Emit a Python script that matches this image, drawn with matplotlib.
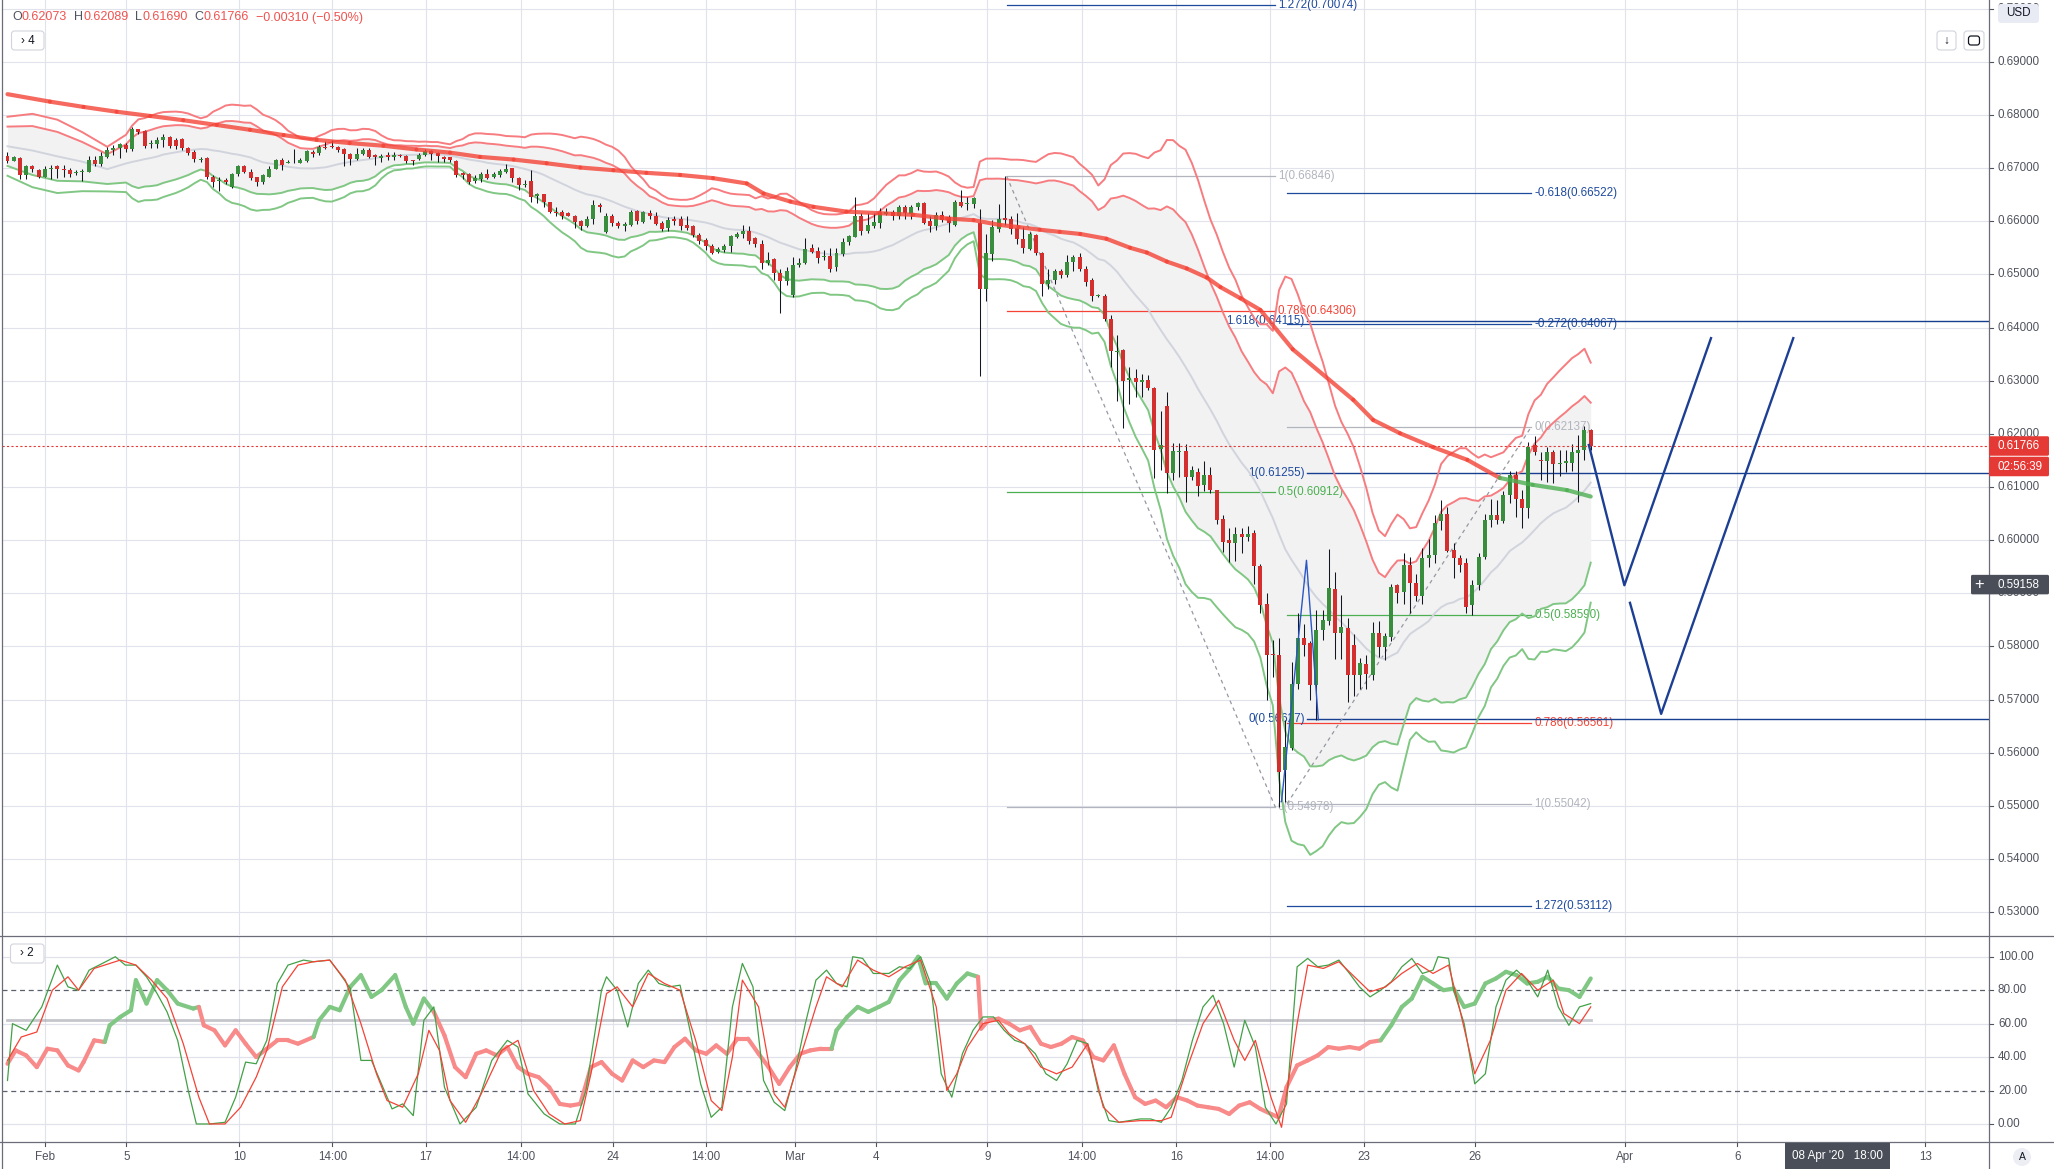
import numpy as np
import pandas as pd
import matplotlib
matplotlib.use("Agg")
import matplotlib.pyplot as plt
from matplotlib.collections import LineCollection
from matplotlib.patches import FancyBboxPatch, Circle
from matplotlib.lines import Line2D
from matplotlib.transforms import blended_transform_factory

plt.rcParams['font.family'] = ['Liberation Sans', 'DejaVu Sans']

# ---------------- data (AUDUSD 4H candles) ----------------
opens = [
0.6723,0.6714,0.6719,0.6687,0.6704,0.6696,0.6684,0.6698,0.6704,0.6699,
0.6696,0.6690,0.6693,0.6693,0.6715,0.6707,0.6720,0.6734,0.6738,0.6743,
0.6735,0.6773,0.6770,0.6745,0.6745,0.6752,0.6758,0.6753,0.6754,0.6737,
0.6731,0.6715,0.6718,0.6683,0.6676,0.6678,0.6665,0.6688,0.6704,0.6693,
0.6683,0.6673,0.6684,0.6699,0.6715,0.6710,0.6711,0.6710,0.6714,0.6731,
0.6728,0.6740,0.6742,0.6739,0.6735,0.6726,0.6717,0.6726,0.6734,0.6725,
0.6718,0.6725,0.6720,0.6725,0.6723,0.6715,0.6717,0.6725,0.6732,0.6728,
0.6720,0.6720,0.6713,0.6690,0.6689,0.6676,0.6679,0.6688,0.6684,0.6687,
0.6693,0.6700,0.6681,0.6669,0.6676,0.6647,0.6651,0.6636,0.6618,0.6618,
0.6616,0.6610,0.6600,0.6591,0.6604,0.6631,0.6580,0.6610,0.6597,0.6591,
0.6593,0.6619,0.6599,0.6615,0.6610,0.6597,0.6588,0.6604,0.6604,0.6593,
0.6591,0.6574,0.6565,0.6553,0.6543,0.6546,0.6554,0.6571,0.6575,0.6582,
0.6568,0.6558,0.6522,0.6528,0.6502,0.6487,0.6461,0.6518,0.6521,0.6549,
0.6544,0.6532,0.6535,0.6513,0.6538,0.6560,0.6571,0.6610,0.6582,0.6591,
0.6596,0.6614,0.6617,0.6609,0.6627,0.6614,0.6626,0.6635,0.6601,0.6591,
0.6612,0.6607,0.6593,0.6637,0.6632,0.6632,0.6597,0.6472,0.6538,0.6586,
0.6606,0.6604,0.6587,0.6567,0.6548,0.6574,0.6541,0.6481,0.6489,0.6507,
0.6498,0.6524,0.6533,0.6511,0.6489,0.6459,0.6459,0.6416,0.6354,0.6357,
0.6302,0.6305,0.6297,0.6302,0.6286,0.6172,0.6252,0.6127,0.6165,0.6167,
0.6118,0.6129,0.6103,0.6122,0.6094,0.6040,0.6000,0.5995,0.6011,0.6005,
0.6013,0.5952,0.5880,0.5786,0.5784,0.5567,0.5608,0.5729,0.5815,0.5806,
0.5727,0.5831,0.5848,0.5908,0.5825,0.5834,0.5803,0.5746,0.5766,0.5746,
0.5826,0.5798,0.5818,0.5915,0.5903,0.5953,0.5919,0.5895,0.5966,0.5972,
0.6035,0.6050,0.5981,0.5966,0.5956,0.5878,0.5915,0.5968,0.6037,0.6047,
0.6035,0.6085,0.6122,0.6078,0.6060,0.6178,0.6151,0.6148,0.6165,0.6144,
0.6146,0.6146,0.6163,0.6170,0.62073]
highs = [
0.6731,0.6723,0.6720,0.6706,0.6706,0.6699,0.6704,0.6706,0.6706,0.6706,
0.6701,0.6696,0.6698,0.6723,0.6723,0.6731,0.6740,0.6743,0.6747,0.6747,
0.6778,0.6773,0.6772,0.6753,0.6759,0.6765,0.6760,0.6756,0.6756,0.6740,
0.6734,0.6721,0.6720,0.6687,0.6683,0.6681,0.6690,0.6706,0.6706,0.6698,
0.6684,0.6688,0.6703,0.6717,0.6718,0.6715,0.6736,0.6718,0.6734,0.6734,
0.6743,0.6750,0.6753,0.6742,0.6737,0.6729,0.6737,0.6737,0.6737,0.6726,
0.6726,0.6731,0.6731,0.6726,0.6725,0.6716,0.6728,0.6735,0.6734,0.6731,
0.6723,0.6721,0.6715,0.6693,0.6691,0.6687,0.6693,0.6698,0.6693,0.6698,
0.6708,0.6700,0.6683,0.6678,0.6696,0.6654,0.6652,0.6637,0.6627,0.6621,
0.6618,0.6612,0.6602,0.6609,0.6640,0.6634,0.6615,0.6614,0.6601,0.6599,
0.6621,0.6621,0.6619,0.6622,0.6618,0.6601,0.6607,0.6609,0.6609,0.6609,
0.6593,0.6577,0.6568,0.6558,0.6552,0.6558,0.6574,0.6580,0.6593,0.6591,
0.6571,0.6565,0.6543,0.6530,0.6511,0.6513,0.6532,0.6530,0.6568,0.6558,
0.6552,0.6546,0.6549,0.6549,0.6568,0.6574,0.6646,0.6615,0.6616,0.6616,
0.6624,0.6624,0.6621,0.6631,0.6631,0.6631,0.6637,0.6637,0.6609,0.6618,
0.6619,0.6612,0.6640,0.6659,0.6646,0.6646,0.6623,0.6576,0.6602,0.6632,
0.6685,0.6610,0.6615,0.6589,0.6580,0.6576,0.6543,0.6511,0.6511,0.6511,
0.6537,0.6537,0.6541,0.6515,0.6494,0.6463,0.6463,0.6423,0.6386,0.6360,
0.6325,0.6321,0.6312,0.6311,0.6288,0.6243,0.6279,0.6183,0.6183,0.6181,
0.6140,0.6135,0.6148,0.6138,0.6095,0.6047,0.6023,0.6025,0.6023,0.6026,
0.6019,0.5955,0.5900,0.5812,0.5815,0.5661,0.5770,0.5862,0.5843,0.5810,
0.5868,0.5868,0.5984,0.5940,0.5897,0.5853,0.5823,0.5779,0.5783,0.5846,
0.5848,0.5825,0.5917,0.5918,0.5975,0.5968,0.5937,0.5985,0.6003,0.6047,
0.6075,0.6062,0.5995,0.5972,0.5966,0.5925,0.5975,0.6050,0.6078,0.6076,
0.6093,0.6130,0.6130,0.6095,0.6185,0.6195,0.6165,0.6175,0.6170,0.6170,
0.6170,0.6180,0.6197,0.6214,0.62089]
lows = [
0.6709,0.6713,0.6679,0.6679,0.6693,0.6681,0.6683,0.6679,0.6682,0.6684,
0.6684,0.6686,0.6676,0.6693,0.6703,0.6704,0.6718,0.6725,0.6718,0.6731,
0.6733,0.6765,0.6737,0.6737,0.6737,0.6740,0.6737,0.6736,0.6734,0.6725,
0.6712,0.6712,0.6679,0.6665,0.6657,0.6670,0.6663,0.6685,0.6690,0.6678,
0.6666,0.6670,0.6683,0.6698,0.6696,0.6709,0.6709,0.6709,0.6712,0.6721,
0.6725,0.6735,0.6737,0.6731,0.6703,0.6706,0.6715,0.6725,0.6718,0.6706,
0.6712,0.6716,0.6715,0.6720,0.6710,0.6706,0.6715,0.6723,0.6715,0.6712,
0.6712,0.6712,0.6684,0.6679,0.6670,0.6671,0.6674,0.6679,0.6681,0.6684,
0.6690,0.6674,0.6659,0.6665,0.6637,0.6634,0.6627,0.6615,0.6609,0.6605,
0.6609,0.6587,0.6583,0.6589,0.6595,0.6618,0.6577,0.6591,0.6588,0.6582,
0.6591,0.6595,0.6597,0.6605,0.6593,0.6582,0.6582,0.6593,0.6583,0.6583,
0.6571,0.6558,0.6546,0.6538,0.6540,0.6543,0.6543,0.6568,0.6568,0.6558,
0.6552,0.6511,0.6518,0.6489,0.6428,0.6480,0.6458,0.6514,0.6520,0.6540,
0.6521,0.6527,0.6505,0.6507,0.6535,0.6555,0.6570,0.6574,0.6577,0.6587,
0.6587,0.6612,0.6602,0.6605,0.6605,0.6605,0.6621,0.6595,0.6580,0.6583,
0.6599,0.6580,0.6591,0.6627,0.6621,0.6624,0.6308,0.6450,0.6526,0.6580,
0.6593,0.6576,0.6558,0.6541,0.6546,0.6537,0.6459,0.6472,0.6481,0.6494,
0.6495,0.6507,0.6507,0.6478,0.6450,0.6457,0.6412,0.6325,0.6262,0.6210,
0.6256,0.6269,0.6269,0.6282,0.6116,0.6131,0.6089,0.6114,0.6118,0.6072,
0.6114,0.6083,0.6092,0.6089,0.6031,0.5977,0.5958,0.5960,0.5975,0.5998,
0.5917,0.5862,0.5699,0.5743,0.5498,0.5508,0.5605,0.5720,0.5781,0.5699,
0.5662,0.5812,0.5840,0.5777,0.5777,0.5696,0.5707,0.5720,0.5720,0.5737,
0.5780,0.5774,0.5810,0.5882,0.5880,0.5862,0.5885,0.5880,0.5950,0.5956,
0.6019,0.5978,0.5928,0.5940,0.5862,0.5860,0.5906,0.5964,0.6025,0.6030,
0.6033,0.6069,0.6043,0.6022,0.6042,0.6160,0.6113,0.6110,0.6108,0.6120,
0.6128,0.6130,0.6072,0.6150,0.61690]
closes = [
0.6714,0.6720,0.6687,0.6704,0.6698,0.6684,0.6698,0.6701,0.6698,0.6696,
0.6688,0.6693,0.6695,0.6715,0.6707,0.6723,0.6734,0.6738,0.6745,0.6735,
0.6773,0.6768,0.6742,0.6748,0.6753,0.6758,0.6742,0.6742,0.6737,0.6728,
0.6717,0.6717,0.6684,0.6673,0.6678,0.6673,0.6688,0.6704,0.6693,0.6681,
0.6673,0.6686,0.6699,0.6715,0.6706,0.6712,0.6712,0.6715,0.6733,0.6726,
0.6739,0.6737,0.6739,0.6734,0.6726,0.6717,0.6726,0.6734,0.6721,0.6720,
0.6723,0.6720,0.6725,0.6723,0.6713,0.6713,0.6725,0.6733,0.6726,0.6723,
0.6717,0.6715,0.6687,0.6687,0.6674,0.6682,0.6689,0.6682,0.6689,0.6694,
0.6698,0.6681,0.6669,0.6670,0.6645,0.6651,0.6636,0.6618,0.6616,0.6610,
0.6610,0.6599,0.6591,0.6604,0.6631,0.6626,0.6610,0.6596,0.6591,0.6595,
0.6618,0.6600,0.6618,0.6609,0.6595,0.6585,0.6603,0.6601,0.6591,0.6588,
0.6574,0.6562,0.6554,0.6541,0.6548,0.6554,0.6572,0.6576,0.6582,0.6563,
0.6557,0.6522,0.6527,0.6502,0.6487,0.6507,0.6518,0.6521,0.6547,0.6543,
0.6531,0.6535,0.6511,0.6541,0.6560,0.6572,0.6609,0.6582,0.6593,0.6599,
0.6615,0.6617,0.6609,0.6626,0.6615,0.6626,0.6635,0.6597,0.6591,0.6612,
0.6602,0.6596,0.6637,0.6628,0.6634,0.6644,0.6472,0.6540,0.6589,0.6604,
0.6602,0.6586,0.6567,0.6550,0.6576,0.6541,0.6481,0.6489,0.6507,0.6498,
0.6524,0.6533,0.6511,0.6485,0.6459,0.6461,0.6416,0.6355,0.6355,0.6299,
0.6305,0.6297,0.6302,0.6286,0.6170,0.6178,0.6127,0.6167,0.6167,0.6118,
0.6131,0.6101,0.6122,0.6094,0.6037,0.5997,0.5995,0.6011,0.6005,0.6011,
0.5952,0.5878,0.5784,0.5783,0.5564,0.5611,0.5729,0.5815,0.5803,0.5727,
0.5831,0.5850,0.5909,0.5826,0.5836,0.5746,0.5746,0.5768,0.5749,0.5826,
0.5798,0.5820,0.5912,0.5901,0.5953,0.5919,0.5894,0.5966,0.5972,0.6033,
0.6050,0.5980,0.5966,0.5954,0.5875,0.5915,0.5968,0.6038,0.6047,0.6037,
0.6085,0.6122,0.6078,0.6060,0.6176,0.6165,0.6148,0.6165,0.6144,0.6146,
0.6149,0.6166,0.6170,0.6207,0.61766]

# Bollinger band values at the left edge (before 20 bars of history exist)
bb_head_bar = [0, 4, 8, 12, 16]
bb_head_mid = [0.6741, 0.6733, 0.6722, 0.6712, 0.6698]
bb_head_sd = [0.00185, 0.0023, 0.0023, 0.00185, 0.0014]

# long moving average (thick line), vertices (bar, price)
ma_pts = [(0,0.6839),(6.8,0.6825),(12.2,0.6815),(17.5,0.6806),(22.9,0.6798),(28.2,0.6790),
          (33.6,0.6781),(38.9,0.6772),(44.3,0.6762),(49.6,0.6753),(54.9,0.6747),(60.3,0.6742),
          (65.6,0.6735),(71.0,0.6729),(75.8,0.6721),(81.2,0.6716),(86.5,0.6709),(91.9,0.6701),
          (97.2,0.6696),(102.5,0.6691),(107.9,0.6687),(113.2,0.6681),(118.6,0.6671),(121.3,0.6652),
          (125.6,0.6637),(129.3,0.6627),(134.6,0.6618),(140.0,0.6615),(145.3,0.6612),(150.7,0.6605),
          (155.0,0.6602),(159.2,0.6593),(162.2,0.6589),(165.6,0.6584),(168.8,0.6580),(172.1,0.6576),
          (176.3,0.6567),(180.1,0.6550),(182.8,0.6541),(186.0,0.6524),(189.2,0.6511),(192.4,0.6494),
          (194.6,0.6476),(197.8,0.6455),(201.0,0.6433),(206.2,0.6359),(215.9,0.6264),(219.1,0.6226),
          (223.4,0.6201),(228.7,0.6175),(234.2,0.6151),(239.4,0.6117),(244.7,0.6104),(250.2,0.6094),
          (254.0,0.6082)]
ma_green_spans = [(239.5, 255)]

# oscillator pane
osc_k = [(0,26),(0.8,60),(3.0,56),(5.5,70),(8.0,95),(9.7,82),(11.4,80),(13.1,92),(14.7,95),(17.3,100),
 (18.9,95),(20.6,95),(22.3,88),(24.0,78),(25.6,67),(27.3,50),(29.0,20),(30.3,0),(32.4,0),(34.9,1),
 (36.6,16),(38.2,37),(39.9,36),(41.6,50),(43.3,84),(45.0,95),(47.5,98),(49.1,97),(51.7,98),(53.3,90),
 (55.0,81),(56.7,38),(58.4,38),(60.0,24),(61.7,9),(63.4,12),(65.1,5),(66.8,62),(68.4,70),(70.1,22),
 (72.6,0),(75.2,10),(77.7,38),(80.2,50),(81.9,46),(83.5,18),(86.1,6),(88.6,0),(91.1,0),(92.8,20),
 (95.3,80),(96.1,88),(97.8,80),(99.5,58),(101.2,84),(102.8,92),(104.5,84),(106.2,82),(107.9,83),(109.5,56),
 (111.2,24),(112.9,4),(114.6,10),(116.3,70),(117.9,96),(119.6,82),(121.3,26),(123.0,13),(124.7,8),(126.3,30),
 (128.0,60),(129.7,86),(131.4,92),(133.0,84),(134.7,82),(135.6,100),(137.2,99),(138.9,90),(141.4,90),(143.1,94),
 (144.8,93),(146.5,100),(148.1,84),(149.8,30),(151.5,16),(153.2,42),(154.9,56),(156.5,64),(158.2,64),(159.9,56),
 (161.6,50),(163.2,48),(164.9,42),(166.6,30),(168.3,26),(170.0,36),(171.6,50),(173.3,48),(175.0,20),(176.7,2),
 (178.3,1),(180.0,2),(181.7,3),(183.4,3),(185.1,1),(186.7,10),(188.4,26),(190.1,50),(191.8,70),(193.4,77),
 (195.1,60),(196.8,34),(198.5,62),(200.2,46),(201.8,10),(203.5,0),(205.2,12),(206.9,94),(208.6,99),(210.2,94),
 (211.9,95),(213.6,98),(215.3,90),(216.9,82),(218.6,76),(220.3,80),(222.0,85),(223.7,94),(225.3,99),(227.0,90),
 (228.7,92),(229.5,100),(231.2,99),(232.0,80),(233.7,60),(235.4,24),(237.1,30),(238.8,70),(240.4,86),(242.1,92),
 (243.8,86),(245.5,76),(247.1,92),(248.8,70),(250.5,59),(252.2,70),(254.0,72)]
osc_d = [(0,38),(2.2,52),(4.7,55),(7.2,80),(9.7,88),(11.4,80),(13.9,93),(18.1,98),(20.6,95),(23.1,86),
 (25.6,75),(28.2,48),(30.7,16),(32.4,0),(34.9,0),(37.4,10),(39.9,28),(41.6,44),(44.1,82),(46.6,95),
 (49.1,97),(51.7,98),(54.2,86),(56.7,60),(59.2,30),(60.9,14),(63.4,10),(65.9,30),(67.6,56),(69.3,44),
 (71.0,14),(73.5,1),(76.0,18),(79.3,44),(81.9,50),(84.4,20),(86.9,6),(89.4,0),(91.9,2),(93.6,30),
 (96.1,78),(97.8,82),(100.3,70),(102.8,90),(105.4,84),(107.9,80),(110.4,50),(112.9,14),(114.6,8),(116.3,40),
 (117.9,86),(120.5,70),(123.0,18),(124.7,10),(127.2,40),(129.7,70),(131.4,88),(133.9,82),(136.4,98),(138.9,92),
 (141.4,88),(144.0,94),(146.5,98),(149.0,70),(150.7,20),(152.3,30),(154.0,46),(156.5,60),(159.0,62),(160.7,54),
 (163.2,48),(165.8,34),(168.3,30),(170.8,34),(173.3,48),(175.8,10),(178.3,1),(181.7,2),(185.1,2),(186.7,4),
 (189.3,34),(191.8,60),(194.3,74),(196.8,50),(198.5,38),(200.2,50),(202.7,16),(204.4,-2),(206.9,60),(208.6,95),
 (211.1,93),(213.6,97),(216.1,88),(218.6,79),(221.1,82),(223.7,90),(226.2,96),(228.7,90),(231.2,95),(232.9,70),
 (235.4,30),(237.9,50),(240.4,80),(242.9,90),(245.5,80),(248.0,86),(249.7,66),(252.2,60),(254.0,70)]
osc_slow = [(0,36),(1.3,44),(3.0,41),(4.7,34),(6.4,45),(8.0,44),(9.7,35),(11.4,32),(12.2,37),(13.9,50),
 (15.6,49),(16.4,59),(18.1,64),(19.8,68),(20.6,86),(22.3,72),(24.0,86),(25.6,80),(27.3,72),(29.8,69),
 (30.7,70),(31.5,59),(33.2,56),(34.9,47),(36.6,56),(38.2,48),(39.9,40),(41.6,45),(43.3,50),(45.0,50),
 (46.6,48),(49.1,52),(50.0,62),(51.7,70),(53.3,68),(55.0,82),(56.7,89),(58.4,76),(60.0,80),(62.2,89),
 (63.9,70),(65.1,60),(66.8,75),(68.4,67),(70.1,53),(71.8,34),(73.5,28),(75.2,42),(76.8,44),(78.5,41),
 (80.2,46),(81.9,34),(83.5,30),(85.2,28),(86.9,22),(88.6,12),(90.3,11),(91.9,12),(93.6,34),(95.3,37),
 (97.0,30),(98.6,26),(100.3,38),(102.0,34),(103.7,38),(105.4,37),(107.0,46),(108.7,51),(110.4,44),(112.1,42),
 (113.7,47),(115.4,42),(117.1,51),(118.8,51),(120.5,42),(122.1,34),(123.8,24),(125.5,34),(127.2,42),(128.8,44),
 (130.5,45),(132.2,45),(133.0,56),(134.7,64),(136.4,70),(138.1,67),(139.8,70),(141.4,73),(143.1,86),(144.8,93),
 (146.1,100),(147.3,84),(149.0,84),(150.7,75),(152.3,84),(154.0,90),(155.7,88),(156.2,57),(157.4,62),(159.0,63),
 (160.7,60),(162.4,56),(164.1,58),(165.8,48),(167.4,46),(169.1,48),(170.8,52),(172.5,50),(174.2,40),(175.8,38),
 (177.5,47),(179.2,30),(180.9,16),(182.5,12),(184.2,14),(185.9,10),(187.6,16),(189.3,14),(190.9,11),(192.6,10),
 (194.3,9),(196.0,6),(197.6,11),(199.3,13),(201.0,9),(202.7,6),(203.9,4),(205.2,22),(206.9,35),(208.6,38),
 (210.2,41),(211.9,46),(213.6,45),(215.3,46),(216.9,45),(218.6,49),(220.3,50),(222.0,59),(223.7,70),(225.3,75),
 (227.0,88),(228.7,84),(230.4,80),(232.0,81),(233.7,70),(235.4,72),(237.1,84),(238.8,87),(240.4,91),(242.1,89),
 (243.8,84),(245.5,85),(247.1,88),(248.8,81),(250.5,80),(252.2,76),(254.0,87)]
osc_slow_green_spans = [(16, 31), (49.5, 69), (132.5, 156), (221.5, 255)]
osc_level = 62

# fibonacci drawings: (label, price, colour key)
fib1 = [("1.272", 0.70074, "b"), ("1", 0.66846, "g"), ("0.786", 0.64306, "r"), ("0.5", 0.60912, "G"), ("0", 0.54978, "g")]
fib2 = [("1.618", 0.64115, "b"), ("1", 0.61255, "b"), ("0", 0.56627, "b")]
fib3 = [("-0.618", 0.66522, "b"), ("-0.272", 0.64067, "b"), ("0", 0.62137, "g"), ("0.5", 0.58590, "G"),
        ("0.786", 0.56561, "r"), ("1", 0.55042, "g"), ("1.272", 0.53112, "b")]
fib1_x = (160.3, 203.4)
fib3_x = (205.3, 244.5)
fib2_x0 = 208.5
pattern_path = [(204.4, 0.5508), (208.4, 0.5962), (210.3, 0.5662)]
proj_path1 = [(253.7, 0.6179), (259.4, 0.5915), (273.3, 0.6380)]
proj_path2 = [(260.3, 0.5882), (265.3, 0.5673), (286.5, 0.6380)]

last_price = 0.61766
cross_price = 0.59158
price_ticks = [0.53, 0.54, 0.55, 0.56, 0.57, 0.58, 0.59, 0.60, 0.61, 0.62,
               0.63, 0.64, 0.65, 0.66, 0.67, 0.68, 0.69, 0.70]
osc_ticks = [100, 80, 60, 40, 20, 0]
tick_bars = [5.95, 19.06, 37.17, 52.1, 67.1, 82.4, 97.1, 112.1, 126.3, 139.4, 157.2,
             172.4, 187.5, 202.5, 217.6, 235.4, 259.5, 277.5, 307.7]
tick_labels = ["Feb", "5", "10", "14:00", "17", "14:00", "24", "14:00", "Mar", "4", "9",
               "14:00", "16", "14:00", "23", "26", "Apr", "6", "13"]
header_parts = [("O", "k"), ("0.62073", "r"), ("  H", "k"), ("0.62089", "r"), ("  L", "k"),
                ("0.61690", "r"), ("  C", "k"), ("0.61766", "r"), ("  \u22120.00310 (\u22120.50%)", "r")]

# ---------------- styling ----------------
W, H = 2054, 1169
GRID = '#e0e3eb'
AXC = '#50535e'
LINEC = '#6a6d78'
C_UP, C_DN = '#388e3c', '#d32f2f'
FIBC = {"b": '#1e4a9e', "g": '#b2b5be', "r": '#f44336', "G": '#4caf50'}
FS = 8.4

fig = plt.figure(figsize=(W / 100, H / 100), dpi=100)
fig.patch.set_facecolor('white')

XMIN, XMAX = -0.882, 317.9
ax = fig.add_axes([2 / W, 1 - 935 / H, 1987 / W, 935 / H])
osc = fig.add_axes([2 / W, 1 - 1141.7 / H, 1987 / W, (1141.7 - 937) / H])
for a in (ax, osc):
    a.set_xlim(XMIN, XMAX)
    a.axis('off')
ax.set_ylim(0.52570, 0.70162)
osc.set_ylim(-10.6, 111.8)

# grid
for p in price_ticks:
    ax.axhline(p, color=GRID, lw=0.8, zorder=0)
for tb in tick_bars:
    ax.axvline(tb, color=GRID, lw=0.8, zorder=0)
    osc.axvline(tb, color=GRID, lw=0.8, zorder=0)
for v in (100, 60, 40, 0):
    osc.axhline(v, color=GRID, lw=0.9, zorder=0)
for v in (80, 20):
    osc.axhline(v, color='#5d606b', lw=0.9, ls=(0, (4, 3)), zorder=1)

# ---------------- candles ----------------
O, Hh, L, C = map(np.array, (opens, highs, lows, closes))
x = np.arange(len(C))
up = C >= O
ax.vlines(x, L, Hh, color='#131722', lw=0.75, zorder=3)
body_h = np.maximum(np.abs(C - O), 0.00006)
ax.bar(x, body_h, bottom=np.minimum(O, C), width=0.64,
       color=np.where(up, C_UP, C_DN), linewidth=0, zorder=3.2)

# ---------------- Bollinger bands ----------------
cs = pd.Series(C)
mid = cs.rolling(20).mean().to_numpy()
sd = cs.rolling(20).std(ddof=0).to_numpy()
bbx = np.concatenate([bb_head_bar, x[19:]])
bbm = np.concatenate([bb_head_mid, mid[19:]])
bbs = np.concatenate([bb_head_sd, sd[19:]])
ax.fill_between(bbx, bbm - 2 * bbs, bbm + 2 * bbs, color='#f2f2f3', lw=0, zorder=1.5)
ax.plot(bbx, bbm, color='#d1d4dc', lw=1.4, zorder=2.5)
for k in (2, 3):
    ax.plot(bbx, bbm + k * bbs, color='#f77c80', lw=1.4, zorder=2.5)
    ax.plot(bbx, bbm - k * bbs, color='#81c784', lw=1.4, zorder=2.5)

# ---------------- thick MA ----------------
def in_spans(b, spans):
    return any(s0 <= b <= s1 for s0, s1 in spans)

mx = np.array([p[0] for p in ma_pts]); my = np.array([p[1] for p in ma_pts])
segs = [[(mx[i], my[i]), (mx[i + 1], my[i + 1])] for i in range(len(mx) - 1)]
cols = ['#4caf50' if in_spans(mx[i + 1], ma_green_spans) else '#f44336' for i in range(len(mx) - 1)]
ax.add_collection(LineCollection(segs, colors=cols, linewidths=3.0, alpha=0.8,
                                 capstyle='round', joinstyle='round', zorder=4))

# ---------------- fibonacci & drawings ----------------
def fib_label(s, p):
    return f"{s}({p:.5f})"

for s, p, c in fib1:
    ax.plot(fib1_x, [p, p], color=FIBC[c], lw=0.9, zorder=2)
    ax.text(fib1_x[1] + 0.4, p, fib_label(s, p), color=FIBC[c], fontsize=FS, va='center', ha='left', zorder=2)
for s, p, c in fib3:
    ax.plot(fib3_x, [p, p], color=FIBC[c], lw=0.9, zorder=2)
    ax.text(fib3_x[1] + 0.5, p, fib_label(s, p), color=FIBC[c], fontsize=FS, va='center', ha='left', zorder=2)
for s, p, c in fib2:
    ax.plot([fib2_x0, XMAX], [p, p], color='#163f8f', lw=1.0, zorder=2)
    ax.text(fib2_x0 - 0.4, p, fib_label(s, p), color=FIBC[c], fontsize=FS, va='center', ha='right', zorder=2)

ax.plot(fib1_x, [fib1[1][1], fib1[4][1]], color='#9598a1', lw=0.9, ls=(0, (3, 3)), zorder=2)
ax.plot(fib3_x, [fib3[5][1], fib3[2][1]], color='#9598a1', lw=0.9, ls=(0, (3, 3)), zorder=2)
ax.plot([p[0] for p in pattern_path], [p[1] for p in pattern_path], color='#2a56c6', lw=1.0, zorder=4.5)
for path in (proj_path1, proj_path2):
    ax.plot([p[0] for p in path], [p[1] for p in path], color='#1c3f94', lw=1.7, zorder=5)

ax.axhline(last_price, color='#e53935', lw=0.8, ls=(0, (2, 2)), zorder=4.6)

# ---------------- oscillator ----------------
osc.plot([0, len(C) - 1], [osc_level, osc_level], color='#9598a1', lw=2.0, alpha=0.55, zorder=1.5)
sx = np.array([p[0] for p in osc_slow]); sy = np.array([p[1] for p in osc_slow])
segs = [[(sx[i], sy[i]), (sx[i + 1], sy[i + 1])] for i in range(len(sx) - 1)]
cols = ['#81c784' if in_spans(sx[i + 1], osc_slow_green_spans) else '#f88a8a' for i in range(len(sx) - 1)]
osc.add_collection(LineCollection(segs, colors=cols, linewidths=3.0, capstyle='round',
                                  joinstyle='round', zorder=2))
osc.plot([p[0] for p in osc_k], [p[1] for p in osc_k], color='#43a047', lw=0.9, zorder=3)
osc.plot([p[0] for p in osc_d], [p[1] for p in osc_d], color='#f44336', lw=0.9, zorder=3.1)

# ---------------- axes labels ----------------
tr = blended_transform_factory(ax.transAxes, ax.transData)
for p in price_ticks:
    ax.text(1.0045, p, f"{p:.5f}", transform=tr, ha='left', va='center', fontsize=FS, color=AXC, clip_on=False)
    ax.plot([1.0, 1.0022], [p, p], transform=tr, color=AXC, lw=0.8, clip_on=False)
tro = blended_transform_factory(osc.transAxes, osc.transData)
for v in osc_ticks:
    osc.text(1.0045, v, f"{v:.2f}", transform=tro, ha='left', va='center', fontsize=FS, color=AXC, clip_on=False)
    osc.plot([1.0, 1.0022], [v, v], transform=tro, color=AXC, lw=0.8, clip_on=False)
trx = blended_transform_factory(osc.transData, osc.transAxes)
for tb, lab in zip(tick_bars, tick_labels):
    osc.text(tb, -0.0747, lab, transform=trx, ha='center', va='center', fontsize=FS, color=AXC, clip_on=False)
    osc.plot([tb, tb], [0, -0.02], transform=trx, color=AXC, lw=0.8, clip_on=False)

# ---------------- chrome ----------------
def P(px, py):
    return px / W, 1 - py / H

def fline(x0, y0, x1, y1, c=LINEC, lw=0.9):
    fig.add_artist(Line2D([x0 / W, x1 / W], [1 - y0 / H, 1 - y1 / H], transform=fig.transFigure,
                          color=c, lw=lw, zorder=6))

def box(x0, y0, x1, y1, fc, ec='none', r=0.02, lw=0.8, z=8):
    fig.add_artist(FancyBboxPatch((x0 / 100, (H - y1) / 100), (x1 - x0) / 100, (y1 - y0) / 100,
                                  boxstyle=f"round,pad=0,rounding_size={r}", transform=fig.dpi_scale_trans,
                                  fc=fc, ec=ec, lw=lw, zorder=z))

def txt(px, py, s, **kw):
    kw.setdefault('fontsize', FS)
    kw.setdefault('va', 'center')
    fig.text(*P(px, py), s, zorder=kw.pop('zorder', 9), **kw)

fline(1.5, 0, 1.5, H)
fline(1989, 0, 1989, H)
fline(0, 935.8, W, 935.8)
fline(0, 1141.7, W, 1141.7)

# header OHLC (pieces chained one after another)
HC = {"k": AXC, "r": '#ef5350'}
prev = fig.text(*P(12, 17.5), header_parts[0][0], color=HC[header_parts[0][1]], fontsize=9,
                va='center', ha='left')
for s, c in header_parts[1:]:
    prev = fig.add_artist(matplotlib.text.Annotation(s, xy=(1, 0.5), xycoords=prev, va='center', ha='left',
                                                     color=HC[c], fontsize=9, annotation_clip=False))

box(11.5, 31, 44, 50, 'white', ec='#d1d4dc', r=0.03)
txt(27.7, 40.5, "\u203a 4", ha='center', color='#131722', fontsize=8.5)
box(10.5, 944, 44, 963, 'white', ec='#d1d4dc', r=0.03)
txt(27.2, 953.5, "\u203a 2", ha='center', color='#131722', fontsize=8.5)

box(1937, 31, 1956, 50, 'white', ec='#d1d4dc', r=0.03)
txt(1946.5, 40.5, "\u2193", ha='center', color='#131722', fontsize=8.5)
box(1964, 31, 1984, 50, 'white', ec='#d1d4dc', r=0.03)
box(1968.5, 36, 1979.5, 45, 'white', ec='#131722', r=0.025, lw=0.9, z=9)

box(1998, 4, 2039, 23, '#e8ebf4', r=0.03, z=9)
txt(2018.5, 13.5, "USD", ha='center', color='#131722', zorder=10)

y_last = ax.transData.transform((0, last_price))[1]
yl = H - y_last
box(1989, yl - 10, 2049, yl + 9.5, '#e53935', r=0.015)
txt(1998, yl, f"{last_price:.5f}", ha='left', color='white')
box(1989, yl + 10.5, 2049, yl + 30, '#e53935', r=0.015)
txt(1998, yl + 20.3, "02:56:39", ha='left', color='white')

yc = H - ax.transData.transform((0, cross_price))[1]
box(1971, yc - 10, 2049, yc + 9.5, '#4a4e59', r=0.015)
txt(1979.5, yc, "+", ha='center', color='white', fontsize=12)
txt(1998, yc, f"{cross_price:.5f}", ha='left', color='white')

box(1785, 1143, 1890, 1169, '#4a4e59', r=0.0)
txt(1837.5, 1156.5, "08 Apr '20   18:00", ha='center', color='white')

fig.add_artist(Circle((2022 / 100, (H - 1157) / 100), 0.09, transform=fig.dpi_scale_trans,
                      fc='#eceef4', ec='none', zorder=8))
txt(2022, 1157, "A", ha='center', color='#131722', fontsize=7.5)

fig.savefig("out.png", dpi=100, facecolor='white')
